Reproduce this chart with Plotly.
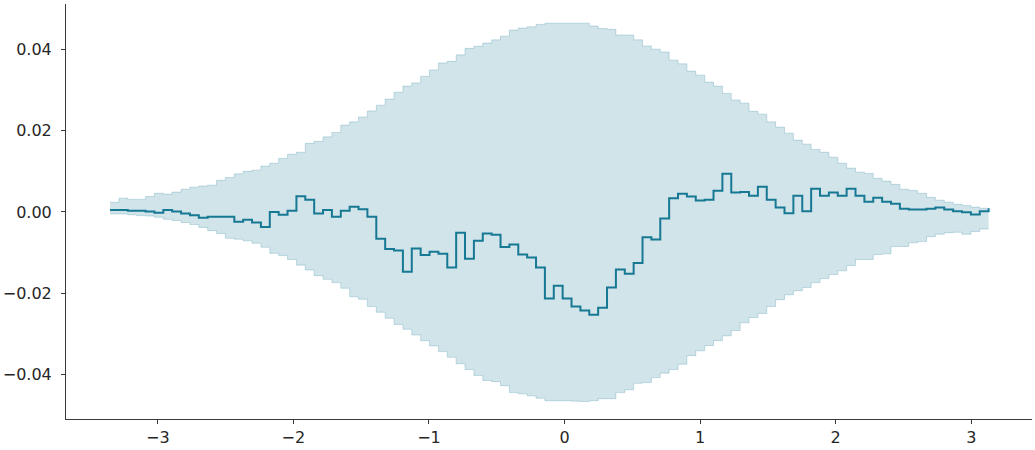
import numpy as np
import plotly.graph_objects as go

# bin grid (99 bins)
x_start, x_end, n_bins = -3.352, 3.128, 99
edges = np.linspace(x_start, x_end, n_bins + 1)

observed = [
    0.0005, 0.0005, 0.0003, 0.0003, 0.0001, -0.0002, 0.0005, 0.0001, -0.0004, -0.0008,
    -0.0014, -0.0012, -0.0012, -0.0012, -0.0024, -0.0019, -0.0026, -0.0037, 0.0000, -0.0007,
    0.0003, 0.0039, 0.0030, -0.0004, 0.0005, -0.0012, 0.0003, 0.0013, 0.0007, -0.0012,
    -0.0066, -0.0091, -0.0095, -0.0147, -0.0090, -0.0106, -0.0098, -0.0103, -0.0137, -0.0051,
    -0.0115, -0.0071, -0.0053, -0.0056, -0.0086, -0.0080, -0.0105, -0.0112, -0.0137, -0.0213,
    -0.0182, -0.0213, -0.0233, -0.0243, -0.0253, -0.0236, -0.0186, -0.0142, -0.0152, -0.0126,
    -0.0062, -0.0068, -0.0016, 0.0034, 0.0045, 0.0038, 0.0028, 0.0030, 0.0052, 0.0094,
    0.0048, 0.0049, 0.0040, 0.0062, 0.0030, 0.0011, -0.0003, 0.0040, 0.0002, 0.0057,
    0.0040, 0.0048, 0.0040, 0.0057, 0.0040, 0.0025, 0.0035, 0.0025, 0.0020, 0.0008,
    0.0006, 0.0006, 0.0008, 0.0011, 0.0006, 0.0002, -0.0001, -0.0006, 0.0002, 0.0009,
]

upper = [
    0.0024, 0.0034, 0.0031, 0.0031, 0.0038, 0.0046, 0.0044, 0.0049, 0.0056, 0.0061,
    0.0064, 0.0066, 0.0078, 0.0085, 0.0094, 0.0100, 0.0103, 0.0113, 0.0120, 0.0132,
    0.0142, 0.0147, 0.0169, 0.0174, 0.0185, 0.0196, 0.0214, 0.0222, 0.0234, 0.0249,
    0.0263, 0.0278, 0.0295, 0.0310, 0.0318, 0.0334, 0.0350, 0.0367, 0.0371, 0.0387,
    0.0403, 0.0408, 0.0416, 0.0424, 0.0433, 0.0448, 0.0453, 0.0456, 0.0462, 0.0465,
    0.0465, 0.0465, 0.0465, 0.0465, 0.0458, 0.0452, 0.0450, 0.0436, 0.0436, 0.0424,
    0.0409, 0.0401, 0.0394, 0.0374, 0.0365, 0.0347, 0.0337, 0.0320, 0.0310, 0.0292,
    0.0276, 0.0268, 0.0248, 0.0241, 0.0222, 0.0209, 0.0194, 0.0177, 0.0167, 0.0154,
    0.0147, 0.0135, 0.0120, 0.0108, 0.0098, 0.0095, 0.0083, 0.0076, 0.0068, 0.0056,
    0.0053, 0.0046, 0.0036, 0.0029, 0.0024, 0.0019, 0.0016, 0.0012, 0.0009,
]

lower = [
    -0.0005, -0.0005, -0.0007, -0.0009, -0.0010, -0.0013, -0.0018, -0.0021, -0.0026, -0.0031,
    -0.0038, -0.0046, -0.0053, -0.0065, -0.0067, -0.0071, -0.0077, -0.0087, -0.0102, -0.0107,
    -0.0117, -0.0131, -0.0143, -0.0157, -0.0166, -0.0174, -0.0188, -0.0209, -0.0215, -0.0233,
    -0.0247, -0.0262, -0.0277, -0.0289, -0.0303, -0.0317, -0.0330, -0.0344, -0.0358, -0.0374,
    -0.0388, -0.0403, -0.0415, -0.0418, -0.0428, -0.0445, -0.0448, -0.0453, -0.0459, -0.0465,
    -0.0465, -0.0465, -0.0466, -0.0467, -0.0465, -0.0460, -0.0460, -0.0445, -0.0438, -0.0422,
    -0.0420, -0.0408, -0.0397, -0.0388, -0.0375, -0.0354, -0.0342, -0.0329, -0.0317, -0.0305,
    -0.0292, -0.0273, -0.0260, -0.0250, -0.0233, -0.0216, -0.0204, -0.0194, -0.0186, -0.0174,
    -0.0164, -0.0154, -0.0145, -0.0132, -0.0117, -0.0117, -0.0105, -0.0103, -0.0085, -0.0085,
    -0.0076, -0.0073, -0.0061, -0.0055, -0.0051, -0.0050, -0.0055, -0.0048, -0.0042,
]

x_ticks = [-3, -2, -1, 0, 1, 2, 3]
y_ticks = [-0.04, -0.02, 0.0, 0.02, 0.04]

line_color = "rgb(23,120,148)"
band_fill = "rgba(23,120,148,0.2)"
band_edge = "rgba(23,120,148,0.22)"

xe = list(edges)
fig = go.Figure()
fig.add_trace(go.Scatter(
    x=xe, y=lower + [lower[-1]], mode="lines", line=dict(shape="hv", color=band_edge, width=1),
    hoverinfo="skip", showlegend=False))
fig.add_trace(go.Scatter(
    x=xe, y=upper + [upper[-1]], mode="lines", line=dict(shape="hv", color=band_edge, width=1),
    fill="tonexty", fillcolor=band_fill, hoverinfo="skip", showlegend=False))
fig.add_trace(go.Scatter(
    x=xe, y=observed, mode="lines", line=dict(shape="hv", color=line_color, width=2),
    showlegend=False))

axis_common = dict(
    showgrid=False, zeroline=False, showline=True, linecolor="#3a3a3a", linewidth=1,
    ticks="outside", ticklen=4, tickwidth=1, tickcolor="#3a3a3a", automargin=False,
    tickfont=dict(family="DejaVu Sans", size=16, color="#262626"), mirror=False,
)
fig.update_xaxes(range=[-3.677, 3.448], tickvals=x_ticks,
                 ticktext=[("\u2212" + str(-v)) if v < 0 else str(v) for v in x_ticks],
                 ticklabelstandoff=0, **axis_common)
fig.update_yaxes(range=[-0.0510, 0.05123], tickvals=y_ticks, tickformat=".2f",
                 ticklabelstandoff=6, **axis_common)

fig.update_layout(
    width=1035, height=450,
    margin=dict(l=66, r=3, t=4, b=31),
    paper_bgcolor="white", plot_bgcolor="white",
    showlegend=False,
)
fig.write_html("out.html", config={"displayModeBar": False},
               post_script="document.body.style.margin='0';document.body.style.overflow='hidden';")
